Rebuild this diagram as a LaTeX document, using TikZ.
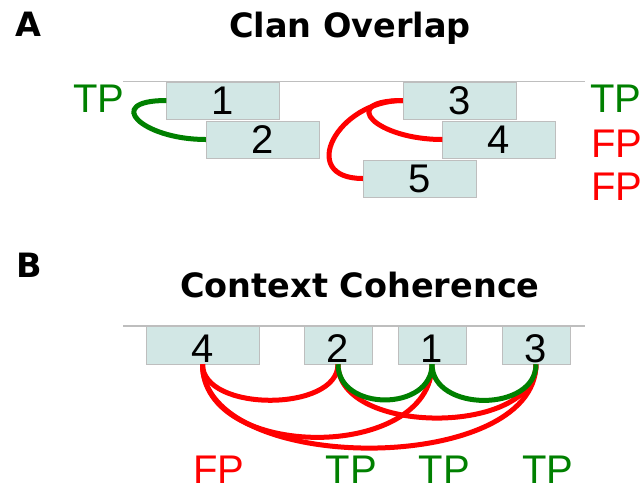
\documentclass[tikz,border=0pt]{standalone}
\usepackage{fontspec}
\setmainfont{Liberation Sans}
\newfontfamily\headfont{DejaVu Sans}
\definecolor{tpgreen}{RGB}{0,128,0}
\definecolor{fpred}{RGB}{255,0,0}
\definecolor{boxfill}{RGB}{210,231,229}
\definecolor{rulegray}{RGB}{190,190,190}
\begin{document}
\begin{tikzpicture}[x=1pt,y=-1pt,
				box/.style={draw=rulegray,fill=boxfill,inner sep=0pt,minimum height=37pt,font=\fontsize{40}{40}\selectfont},
				wide/.style={minimum width=113pt},
				narrow/.style={minimum width=68pt,minimum height=38pt,text height=35pt,text depth=0pt},
				tp/.style={text=tpgreen,inner sep=0pt,font=\fontsize{40}{40}\selectfont},
				fp/.style={text=fpred,inner sep=0pt,font=\fontsize{40}{40}\selectfont},
				head/.style={anchor=base,inner sep=0pt,font=\headfont\bfseries\fontsize{33.5}{33.5}\selectfont},
				link/.style={line width=5pt}]
\useasboundingbox (0,0) rectangle (642,488);
\node[head] (capA) at (28.5,36) {A};
\node[head] (titleA) at (350,37) {Clan Overlap};
\draw[rulegray,line width=1.5pt] (123,81.5) -- (585,81.5);
\node[box,wide] (a1) at (223,100.5) {1};
\node[box,wide] (a2) at (262.5,139.5) {2};
\node[box,wide] (a3) at (459.5,100.5) {3};
\node[box,wide] (a4) at (499,139.5) {4};
\node[box,wide] (a5) at (419.5,178.5) {5};
\draw[link,tpgreen] (a1.west) .. controls +(-64,0) and +(-64,0) .. (a2.west);
\draw[link,fpred] (a3.west) .. controls +(-66,0) and +(-66,0) .. (a4.west);
\draw[link,fpred] (a3.west) .. controls +(-66,0) and +(-66,0) .. (a5.west);
\node[tp] (tpA) at (99,99) {TP};
\node[tp] (tp3) at (616,99) {TP};
\node[fp] (fp4) at (617,144) {FP};
\node[fp] (fp5) at (617,187) {FP};
\node[head] (capB) at (29.5,277) {B};
\node[head] (titleB) at (360,297) {Context Coherence};
\draw[rulegray,line width=1.5pt] (123,326) -- (585,326);
\node[box,narrow,wide] (b4) at (202.5,345) {4};
\node[box,narrow] (b2) at (338,345) {2};
\node[box,narrow] (b1) at (432,345) {1};
\node[box,narrow] (b3) at (536,345) {3};
\draw[link,fpred] (b4.south) to[out=-90,in=-90,looseness=0.91] (b2.south);
\draw[link,fpred] (b2.south) to[out=-90,in=-90,looseness=0.93] (b3.south);
\draw[link,fpred] (b4.south) to[out=-90,in=-90,looseness=1.09] (b1.south);
\draw[link,fpred] (b4.south) to[out=-90,in=-90,looseness=0.86] (b3.south);
\draw[link,tpgreen] (b2.south) to[out=-90,in=-90,looseness=1.3] (b1.south);
\draw[link,tpgreen] (b1.south) to[out=-90,in=-90,looseness=1.19] (b3.south);
\node[fp] (fpb4) at (219,470) {FP};
\node[tp] (tpb2) at (351.5,470) {TP};
\node[tp] (tpb1) at (444.5,470) {TP};
\node[tp] (tpb3) at (548,470) {TP};
\end{tikzpicture}
\end{document}
